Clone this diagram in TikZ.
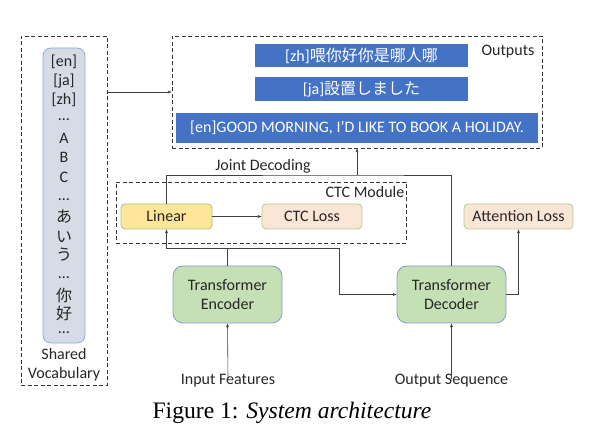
\documentclass[tikz,border=0pt]{standalone}
\usepackage{fontspec}
\setmainfont{Carlito}
\newfontfamily\cjk{Noto Sans CJK SC}
\newfontfamily\jp{Noto Sans CJK JP}
\newfontfamily\capfont{Liberation Serif}
\usetikzlibrary{arrows.meta,calc}
\definecolor{txt}{HTML}{262626}
\definecolor{obl}{HTML}{4472C4}
\definecolor{vocfill}{HTML}{D6DCE5}
\definecolor{vocline}{HTML}{8EA9DB}
\definecolor{linfill}{HTML}{FFE699}
\definecolor{linline}{HTML}{A9C47F}
\definecolor{lossfill}{HTML}{FBE5D6}
\definecolor{lossline}{HTML}{A9D18E}
\definecolor{trfill}{HTML}{C5E0B4}
\definecolor{trline}{HTML}{7F9FC8}
\definecolor{conn}{HTML}{404040}
\tikzset{
  dashbox/.style={draw=black!80, line width=0.8pt, dash pattern=on 4pt off 2.5pt, inner sep=0pt},
  outbox/.style={fill=obl, draw=none, text=white, inner sep=0pt, font=\fontsize{16}{19}\selectfont},
  smallbox/.style={rounded corners=4pt, line width=0.8pt, inner sep=0pt, minimum height=25pt, font=\fontsize{16}{19}\selectfont, text=txt},
  trbox/.style={rounded corners=10pt, line width=0.8pt, fill=trfill, draw=trline, inner sep=0pt, minimum width=109pt, minimum height=57pt, align=center, font=\fontsize{16}{19}\selectfont, text=txt},
  vitem/.style={inner sep=0pt, font=\fontsize{16}{19}\selectfont, text=txt},
  lbl/.style={inner sep=0pt, font=\fontsize{16}{19}\selectfont, text=txt},
  arr/.style={draw=conn, line width=0.6pt, -{Stealth[length=4pt,width=3pt]}},
  ln/.style={draw=conn, line width=0.6pt},
}
\begin{document}
\begin{tikzpicture}[x=1pt,y=-1pt]
\useasboundingbox (0,0) rectangle (597,438);
% Shared vocabulary
\node[dashbox, minimum width=86pt, minimum height=349pt] (vocab) at (64,210.5) {};
\node[draw=vocline, fill=vocfill, line width=0.8pt, rounded corners=8pt, minimum width=42pt, minimum height=295pt, inner sep=0pt] (vin) at (64,195.5) {};
\node[vitem] (v1) at (64,61.7) {[en]};
\node[vitem] (v2) at (64,81) {[ja]};
\node[vitem] (v3) at (64,99.5) {[zh]};
\node[vitem] (v4) at (64,120) {…};
\node[vitem] (v5) at (64,138.5) {A};
\node[vitem] (v6) at (64,157.5) {B};
\node[vitem] (v7) at (64,177) {C};
\node[vitem] (v8) at (64,200) {…};
\node[vitem, font=\jp\fontsize{16}{19}\selectfont] (v9) at (64,217) {あ};
\node[vitem, font=\jp\fontsize{16}{19}\selectfont] (v10) at (64,237) {い};
\node[vitem, font=\jp\fontsize{16}{19}\selectfont] (v11) at (64,255) {う};
\node[vitem] (v12) at (64,278) {…};
\node[vitem, font=\cjk\fontsize{16}{19}\selectfont] (v13) at (64,295) {你};
\node[vitem, font=\cjk\fontsize{16}{19}\selectfont] (v14) at (64,313) {好};
\node[vitem] (v15) at (64,333) {…};
\node[lbl] (sh) at (64,354) {Shared};
\node[lbl] (vo) at (64,374) {Vocabulary};
% Outputs
\node[dashbox, minimum width=370pt, minimum height=112pt] (outputs) at (357,92) {};
\node[outbox, minimum width=213pt, minimum height=23pt] (zh) at (361.5,55.5) {[zh]{\cjk 喂你好你是哪人哪}};
\node[outbox, minimum width=213pt, minimum height=24pt] (ja) at (361.5,89) {[ja]{\jp 設置しました}};
\node[outbox, minimum width=362pt, minimum height=30pt] (en) at (357,128) {[en]GOOD MORNING, I'D LIKE TO BOOK A HOLIDAY.};
\node[lbl] (outl) at (508,52) {Outputs};
% CTC module
\node[dashbox, minimum width=290pt, minimum height=61pt] (ctc) at (261,212.5) {};
\node[lbl] (ctcl) at (365,192) {CTC Module};
\node[smallbox, fill=linfill, draw=linline, minimum width=91pt] (linear) at (166.5,216.5) {Linear};
\node[smallbox, fill=lossfill, draw=lossline, minimum width=100pt] (ctcloss) at (312,216.5) {CTC Loss};
\node[smallbox, fill=lossfill, draw=lossline, minimum width=109pt] (att) at (518.5,216.5) {Attention Loss};
% Transformers
\node[trbox] (enc) at (227.5,294.5) {Transformer\\Encoder};
\node[trbox] (dec) at (451.5,294.5) {Transformer\\Decoder};
\node[lbl] (inp) at (228,381) {Input Features};
\node[lbl] (outs) at (451.5,381) {Output Sequence};
\node[lbl] (jdl) at (263,166) {Joint Decoding};
% Caption
\node[inner sep=0pt, font=\capfont\fontsize{23.6}{27}\selectfont] (cap) at (292,413) {Figure 1: \textit{System architecture}};
% coordinates
\coordinate (jd) at (357,175);
\coordinate (ej) at (227.5,248);
\coordinate (ec) at (339,248);
% connectors
\draw[arr] (outputs.west -| vocab.east) -- (outputs.west);
\draw[ln] (linear.north) |- (jd) -| (dec.north);
\draw[arr] (jd) -- (outputs.south -| jd);
\draw[ln] (enc.north) -- (ej);
\draw[arr] (ej) -| (linear.south);
\draw[arr] (ej) -- (ec) |- (dec.west);
\draw[arr] (dec.east) -| (att.south);
\draw[arr] (linear) -- (ctcloss);
\draw[arr] ([yshift=-5pt]inp.north) -- (enc.south);
\draw[arr] ([yshift=-5pt]outs.north) -- (dec.south);
\end{tikzpicture}
\end{document}
